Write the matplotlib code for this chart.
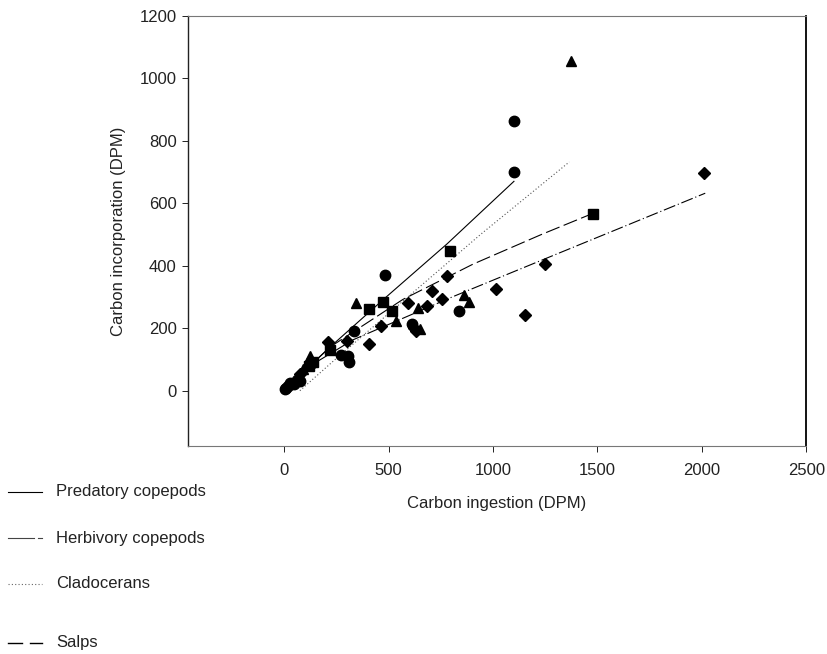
import matplotlib
matplotlib.use("Agg")
import matplotlib.pyplot as plt
from matplotlib.lines import Line2D

plt.rcParams['font.family'] = ['Liberation Sans', 'DejaVu Sans']

# predatory copepods (circles)
pred_x = [3, 10, 20, 28, 45, 62, 75, 135, 272, 305, 312, 336, 484, 612, 835, 1100, 1100]
pred_y = [6, 10, 16, 24, 22, 35, 32, 88, 115, 112, 92, 190, 370, 215, 255, 700, 862]
# herbivory copepods (diamonds)
herb_x = [75, 210, 300, 408, 464, 595, 620, 630, 683, 706, 757, 779, 1015, 1152, 1248, 2010]
herb_y = [55, 157, 160, 150, 207, 280, 200, 192, 271, 320, 293, 366, 325, 242, 404, 697]
# cladocerans (triangles)
clad_x = [90, 108, 122, 345, 535, 640, 650, 862, 885, 1371]
clad_y = [68, 88, 110, 280, 222, 265, 198, 305, 285, 1055]
# salps (squares)
salp_x = [118, 138, 218, 405, 472, 517, 796, 1480]
salp_y = [80, 92, 130, 260, 285, 255, 448, 565]

# fitted curves
pred_fit_x = [5, 220, 480, 780, 1100]
pred_fit_y = [5, 140, 295, 470, 670]
herb_fit_x = [20, 150, 330, 808, 1256, 2016]
herb_fit_y = [20, 90, 163, 301, 424, 632]
clad_fit_x = [75, 232, 940, 1365]
clad_fit_y = [0, 93, 500, 732]
salp_fit_x = [20, 220, 568, 904, 1232, 1480]
salp_fit_y = [15, 140, 292, 405, 500, 568]

legend_labels = ["Predatory copepods", "Herbivory copepods", "Cladocerans", "Salps"]

fig = plt.figure(figsize=(8.27, 6.54), dpi=100)
ax = fig.add_axes([0.227, 0.318, 0.748, 0.658])

pred_ls = '-'
herb_ls = (0, (11, 2.5, 1, 2.5))
clad_ls = (0, (1, 2))
salp_ls = (0, (13, 4))

ax.plot(pred_fit_x, pred_fit_y, color='black', lw=0.8, ls=pred_ls)
ax.plot(herb_fit_x, herb_fit_y, color='black', lw=0.8, ls=herb_ls)
ax.plot(clad_fit_x, clad_fit_y, color='#555555', lw=0.8, ls=clad_ls)
ax.plot(salp_fit_x, salp_fit_y, color='black', lw=0.8, ls=salp_ls)

ax.plot(pred_x, pred_y, 'o', color='black', ms=7.5, ls='none')
ax.plot(herb_x, herb_y, 'D', color='black', ms=6.5, ls='none')
ax.plot(clad_x, clad_y, '^', color='black', ms=7.5, ls='none')
ax.plot(salp_x, salp_y, 's', color='black', ms=6.5, ls='none')

ax.set_xlim(-462, 2500)
ax.set_ylim(-177, 1200)
ax.set_xticks([0, 500, 1000, 1500, 2000, 2500])
ax.set_yticks([0, 200, 400, 600, 800, 1000, 1200])
ax.tick_params(direction='out', length=4, width=0.7, labelsize=12, colors='#222222')
ax.tick_params(axis='x', pad=8)
ax.tick_params(axis='y', pad=4)

for side in ['top', 'bottom']:
    ax.spines[side].set_color('#777777')
    ax.spines[side].set_linewidth(0.8)
ax.spines['left'].set_color('#222222')
ax.spines['left'].set_linewidth(1.0)
ax.spines['right'].set_color('black')
ax.spines['right'].set_linewidth(1.3)

ax.set_xlabel("Carbon ingestion (DPM)", fontsize=12, color='#222222', labelpad=13)
ax.set_ylabel("Carbon incorporation (DPM)", fontsize=12, color='#222222', labelpad=10)

# legend placed below-left, outside the axes
leg_y = [491.7, 538, 584, 643]
leg_styles = [pred_ls, herb_ls, clad_ls, salp_ls]
for lab, yy, st in zip(legend_labels, leg_y, leg_styles):
    fy = 1 - yy / 654
    if st == herb_ls:
        fig.add_artist(Line2D([8 / 827, 34 / 827], [fy, fy], color='#444444', lw=0.8))
        fig.add_artist(Line2D([38 / 827, 42 / 827], [fy, fy], color='#444444', lw=0.8))
    elif st == salp_ls:
        fig.add_artist(Line2D([8 / 827, 22 / 827], [fy, fy], color='black', lw=1.0))
        fig.add_artist(Line2D([30 / 827, 42 / 827], [fy, fy], color='black', lw=1.0))
    else:
        fig.add_artist(Line2D([8 / 827, 42 / 827], [fy, fy], color='black' if st == '-' else '#666666',
                              lw=0.8, ls=st))
    fig.text(56 / 827, fy, lab, fontsize=12, va='center', ha='left', color='#222222')

fig.savefig("out.png", dpi=100)
